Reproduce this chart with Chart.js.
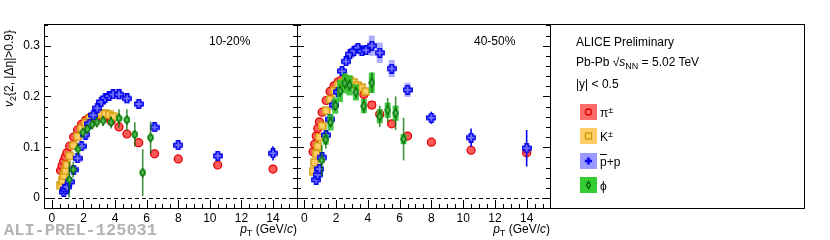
<!DOCTYPE html>
<html>
<head>
<meta charset="utf-8">
<script src="https://cdn.jsdelivr.net/npm/chart.js@4/dist/chart.umd.min.js"></script>
<style>
  body { margin: 0; background: #fff; }
  #wrap { position: relative; width: 830px; height: 240px; font-family: "Liberation Sans", Arial, sans-serif; font-size: 12px; color: #000; }
  #wrap canvas { position: absolute; top: 0; }
  .t { position: absolute; line-height: 14px; white-space: nowrap; }
  .t sub, .t sup { font-size: 9px; line-height: 0; }
  .t sub { vertical-align: -3px; }
  .t sup { vertical-align: 4px; }
  #legend { position: absolute; left: 550px; top: 24px; width: 255px; height: 185px; box-sizing: border-box; border: 1px solid #000; }
  .icon { position: absolute; left: 580px; }
</style>
</head>
<body>
<div id="wrap">
  <canvas id="left" width="298" height="240" style="left:0"></canvas>
  <canvas id="right" width="254" height="240" style="left:297px"></canvas>
  <div id="legend"></div>

  <div class="t" style="left:2px;top:107px;transform-origin:0 0;transform:rotate(-90deg)"><i>v</i><sub>2</sub>{2, |Δη|&gt;0.9}</div>
  <div class="t" style="left:209px;top:34px">10-20%</div>
  <div class="t" style="left:474px;top:34px">40-50%</div>
  <div class="t" style="left:197px;top:222px;width:100px;text-align:right"><i>p</i><sub>T</sub> (GeV/<i>c</i>)</div>
  <div class="t" style="left:450px;top:222px;width:100px;text-align:right"><i>p</i><sub>T</sub> (GeV/<i>c</i>)</div>
  <div class="t" style="left:4px;top:221px;line-height:20px;font-family:'Liberation Mono',monospace;font-weight:bold;font-size:17px;color:#b4b4b4">ALI-PREL-125031</div>

  <div class="t" style="left:576px;top:35px">ALICE Preliminary</div>
  <div class="t" style="left:576px;top:55px">Pb-Pb √<i>s</i><sub>NN</sub> = 5.02 TeV</div>
  <div class="t" style="left:576px;top:77px">|y| &lt; 0.5</div>
  <canvas class="icon" id="icPi" width="17" height="16" style="top:104px"></canvas>
  <canvas class="icon" id="icK" width="17" height="16" style="top:128px"></canvas>
  <canvas class="icon" id="icP" width="17" height="16" style="top:153px"></canvas>
  <canvas class="icon" id="icPhi" width="17" height="16" style="top:177px"></canvas>
  <div class="t" style="left:600px;top:106px">π<sup>±</sup></div>
  <div class="t" style="left:600px;top:130px">K<sup>±</sup></div>
  <div class="t" style="left:600px;top:155px"><span style="text-decoration:overline">p</span>+p</div>
  <div class="t" style="left:600px;top:179px">ϕ</div>
</div>

<script>
// pT bin centres (GeV/c)
const ptPi = [0.55, 0.65, 0.75, 0.85, 0.95, 1.125, 1.375, 1.625, 1.875, 2.125, 2.375, 2.625, 2.875, 3.25, 3.75, 4.25, 4.75, 5.5, 6.5, 8, 10.5, 14];
const ptK = [0.55, 0.65, 0.75, 0.85, 0.95, 1.125, 1.375, 1.625, 1.875, 2.125, 2.375, 2.625, 2.875, 3.125, 3.375, 3.625, 3.875];
const ptP = [0.75, 0.85, 0.95, 1.125, 1.375, 1.625, 1.875, 2.125, 2.375, 2.625, 2.875, 3.125, 3.375, 3.625, 3.875, 4.25, 4.75, 5.5, 6.5, 8, 10.5, 14];
const ptPhi = [1.1, 1.35, 1.65, 1.95, 2.25, 2.55, 2.85, 3.25, 3.75, 4.25, 4.75, 5.25, 5.75, 6.25];

// 10-20%
const v2PiL = [0.054, 0.064, 0.073, 0.081, 0.089, 0.102, 0.120, 0.134, 0.145, 0.153, 0.158, 0.160, 0.160, 0.157, 0.151, 0.140, 0.126, 0.109, 0.087, 0.077, 0.065, 0.057];
const statPiL = [0.001, 0.001, 0.001, 0.001, 0.001, 0.001, 0.001, 0.001, 0.001, 0.001, 0.001, 0.001, 0.001, 0.001, 0.001, 0.001, 0.002, 0.002, 0.002, 0.002, 0.003, 0.004];
const sysPiL = [0.003, 0.003, 0.003, 0.003, 0.003, 0.003, 0.003, 0.003, 0.003, 0.003, 0.003, 0.003, 0.003, 0.003, 0.004, 0.004, 0.004, 0.004, 0.004, 0.003, 0.003, 0.003];
const v2KL = [0.025, 0.034, 0.044, 0.054, 0.065, 0.083, 0.103, 0.121, 0.137, 0.148, 0.156, 0.161, 0.164, 0.166, 0.166, 0.164, 0.160];
const statKL = [0.001, 0.001, 0.001, 0.001, 0.001, 0.001, 0.001, 0.001, 0.001, 0.001, 0.001, 0.001, 0.001, 0.001, 0.001, 0.002, 0.002];
const sysKL = [0.003, 0.003, 0.003, 0.003, 0.003, 0.003, 0.003, 0.003, 0.003, 0.003, 0.003, 0.003, 0.003, 0.003, 0.003, 0.004, 0.004];
const v2PL = [0.012, 0.017, 0.022, 0.032, 0.056, 0.078, 0.102, 0.125, 0.146, 0.163, 0.177, 0.189, 0.197, 0.201, 0.204, 0.204, 0.196, 0.185, 0.139, 0.104, 0.083, 0.088];
const statPL = [0.002, 0.002, 0.002, 0.002, 0.002, 0.002, 0.002, 0.002, 0.002, 0.002, 0.002, 0.002, 0.002, 0.002, 0.002, 0.003, 0.003, 0.004, 0.004, 0.004, 0.005, 0.014];
const sysPL = [0.002, 0.002, 0.002, 0.002, 0.002, 0.002, 0.003, 0.003, 0.003, 0.003, 0.003, 0.003, 0.004, 0.004, 0.005, 0.011, 0.011, 0.009, 0.008, 0.004, 0.004, 0.004];
const v2PhiL = [0.036, 0.056, 0.096, 0.129, 0.136, 0.145, 0.149, 0.152, 0.149, 0.157, 0.154, 0.125, 0.050, 0.119];
const statPhiL = [0.035, 0.015, 0.012, 0.010, 0.010, 0.010, 0.010, 0.010, 0.012, 0.018, 0.021, 0.024, 0.046, 0.031];
const sysPhiL = [0.004, 0.004, 0.004, 0.004, 0.004, 0.004, 0.004, 0.004, 0.005, 0.006, 0.006, 0.006, 0.006, 0.006];

// 40-50%
const v2PiR = [0.091, 0.106, 0.122, 0.137, 0.150, 0.169, 0.192, 0.210, 0.221, 0.229, 0.233, 0.234, 0.231, 0.222, 0.204, 0.183, 0.165, 0.146, 0.122, 0.110, 0.094, 0.089];
const statPiR = [0.001, 0.001, 0.001, 0.001, 0.001, 0.001, 0.001, 0.001, 0.001, 0.001, 0.001, 0.001, 0.001, 0.001, 0.002, 0.002, 0.002, 0.002, 0.002, 0.002, 0.003, 0.004];
const sysPiR = [0.004, 0.004, 0.004, 0.004, 0.004, 0.004, 0.004, 0.004, 0.004, 0.004, 0.004, 0.004, 0.004, 0.005, 0.006, 0.008, 0.006, 0.006, 0.005, 0.004, 0.004, 0.004];
const v2KR = [0.053, 0.070, 0.087, 0.102, 0.120, 0.142, 0.172, 0.194, 0.211, 0.222, 0.228, 0.232, 0.232, 0.228, 0.222, 0.217, 0.210];
const statKR = [0.001, 0.001, 0.001, 0.001, 0.001, 0.001, 0.001, 0.001, 0.001, 0.001, 0.001, 0.001, 0.001, 0.002, 0.002, 0.002, 0.002];
const sysKR = [0.004, 0.004, 0.004, 0.004, 0.004, 0.004, 0.004, 0.004, 0.004, 0.004, 0.004, 0.004, 0.004, 0.005, 0.005, 0.005, 0.005];
const v2PR = [0.036, 0.046, 0.057, 0.080, 0.124, 0.155, 0.183, 0.209, 0.250, 0.269, 0.283, 0.290, 0.296, 0.289, 0.291, 0.300, 0.286, 0.255, 0.213, 0.158, 0.119, 0.098];
const statPR = [0.003, 0.003, 0.003, 0.003, 0.003, 0.003, 0.003, 0.003, 0.003, 0.003, 0.003, 0.003, 0.003, 0.003, 0.003, 0.004, 0.004, 0.005, 0.006, 0.012, 0.018, 0.036];
const sysPR = [0.003, 0.003, 0.003, 0.003, 0.003, 0.003, 0.004, 0.004, 0.005, 0.005, 0.006, 0.006, 0.007, 0.009, 0.009, 0.020, 0.020, 0.017, 0.014, 0.006, 0.006, 0.005];
const v2PhiR = [0.074, 0.115, 0.149, 0.182, 0.211, 0.226, 0.222, 0.208, 0.181, 0.227, 0.161, 0.173, 0.167, 0.116];
const statPhiR = [0.030, 0.018, 0.010, 0.010, 0.012, 0.012, 0.012, 0.012, 0.014, 0.020, 0.021, 0.024, 0.033, 0.042];
const sysPhiR = [0.005, 0.010, 0.016, 0.016, 0.022, 0.020, 0.020, 0.016, 0.014, 0.020, 0.014, 0.015, 0.015, 0.010];

const xMajor = [0, 2, 4, 6, 8, 10, 12, 14];
const yMajor = [0, 0.1, 0.2, 0.3];

// marker images (ROOT-like open markers)
function squareMarker(fill, stroke) {
  const c = document.createElement("canvas");
  c.width = c.height = 9;
  const g = c.getContext("2d");
  g.fillStyle = fill; g.fillRect(1, 1, 7, 7);
  g.strokeStyle = stroke; g.lineWidth = 1.3; g.strokeRect(1, 1, 7, 7);
  return c;
}
function plusPath(g, m, a, e) {
  g.beginPath();
  g.moveTo(m - a, m - e); g.lineTo(m + a, m - e); g.lineTo(m + a, m - a); g.lineTo(m + e, m - a);
  g.lineTo(m + e, m + a); g.lineTo(m + a, m + a); g.lineTo(m + a, m + e); g.lineTo(m - a, m + e);
  g.lineTo(m - a, m + a); g.lineTo(m - e, m + a); g.lineTo(m - e, m - a); g.lineTo(m - a, m - a);
  g.closePath();
}
function plusMarker(fill, stroke) {
  const c = document.createElement("canvas");
  c.width = c.height = 10;
  const g = c.getContext("2d");
  plusPath(g, 5, 1.7, 4.2);
  g.fillStyle = fill; g.fill();
  g.strokeStyle = stroke; g.lineWidth = 1.4; g.stroke();
  return c;
}
function diamondPath(g, cx, cy, hw, hh) {
  g.beginPath();
  g.moveTo(cx, cy - hh); g.lineTo(cx + hw, cy); g.lineTo(cx, cy + hh); g.lineTo(cx - hw, cy);
  g.closePath();
}
function diamondMarker(fill, stroke) {
  const c = document.createElement("canvas");
  c.width = 7; c.height = 10;
  const g = c.getContext("2d");
  diamondPath(g, 3.5, 5, 2.6, 4.2);
  g.fillStyle = fill; g.fill();
  g.strokeStyle = stroke; g.lineWidth = 1.2; g.stroke();
  return c;
}

const styles = {
  pi: { marker: "circle", bg: "#ff5a5a", border: "#e00000", box: "rgba(255,100,100,0.7)", bar: "#e00000", half: 4 },
  k: { marker: squareMarker("#ffcc66", "#cc9900"), box: "rgba(255,200,90,0.8)", bar: "#cc9900", half: 4 },
  p: { marker: plusMarker("#6f6fff", "#0000ee"), box: "rgba(120,120,255,0.6)", bar: "#0000ee", half: 3 },
  phi: { marker: diamondMarker("#55bb55", "#006600"), box: "rgba(40,190,40,0.85)", bar: "rgba(0,110,0,0.75)", half: 3 }
};

function series(st, pt, v2, stat, sys) {
  return {
    data: pt.map((x, i) => ({ x: x, y: v2[i] })),
    stat: stat, sys: sys,
    boxColor: st.box, barColor: st.bar, boxHalf: st.half,
    pointStyle: st.marker, pointRadius: 4,
    pointBackgroundColor: st.bg || "#000", pointBorderColor: st.border || "#000", pointBorderWidth: 1.2
  };
}

// boxes (systematic) and bars (statistical) under each dataset
const errPlugin = {
  id: "errs",
  beforeDatasetDraw(chart, args) {
    const ds = chart.data.datasets[args.index];
    const { ctx, chartArea: a, scales: { x, y } } = chart;
    ctx.save();
    ctx.beginPath(); ctx.rect(a.left, a.top, a.right - a.left, a.bottom - a.top); ctx.clip();
    ds.data.forEach((p, i) => {
      const px = x.getPixelForValue(p.x);
      const y1 = y.getPixelForValue(p.y + ds.sys[i]);
      const y2 = y.getPixelForValue(p.y - ds.sys[i]);
      ctx.fillStyle = ds.boxColor;
      ctx.fillRect(px - ds.boxHalf, y1, ds.boxHalf * 2, y2 - y1);
    });
    ctx.strokeStyle = ds.barColor;
    ctx.lineWidth = 1.6;
    ds.data.forEach((p, i) => {
      const px = x.getPixelForValue(p.x);
      ctx.beginPath();
      ctx.moveTo(px, y.getPixelForValue(p.y + ds.stat[i]));
      ctx.lineTo(px, y.getPixelForValue(p.y - ds.stat[i]));
      ctx.stroke();
    });
    ctx.restore();
  }
};

// zero line, frame and inward ticks
const framePlugin = {
  id: "frame",
  beforeDatasetsDraw(chart) {
    const { ctx, chartArea: a, scales: { y } } = chart;
    const y0 = Math.round(y.getPixelForValue(0)) + 0.5;
    ctx.save();
    ctx.setLineDash([4, 3]);
    ctx.strokeStyle = "#000"; ctx.lineWidth = 1;
    ctx.beginPath(); ctx.moveTo(a.left, y0); ctx.lineTo(a.right, y0); ctx.stroke();
    ctx.restore();
  },
  afterDraw(chart) {
    const { ctx, chartArea: a, scales: { x, y } } = chart;
    ctx.save();
    ctx.strokeStyle = "#000"; ctx.lineWidth = 1;
    ctx.strokeRect(a.left + 0.5, a.top + 0.5, a.right - a.left, a.bottom - a.top);
    ctx.beginPath();
    for (let i = -1; i <= 31; i++) {
      const v = i / 2;
      if (v < x.min || v > x.max) continue;
      const len = xMajor.includes(v) ? 8 : 4;
      const px = Math.round(x.getPixelForValue(v)) + 0.5;
      ctx.moveTo(px, a.bottom); ctx.lineTo(px, a.bottom - len);
    }
    for (let i = -1; i <= 17; i++) {
      const v = Math.round(i * 2) / 100;
      if (v < y.min || v > y.max) continue;
      const len = i % 5 === 0 ? 7 : 4;
      const py = Math.round(y.getPixelForValue(v)) + 0.5;
      ctx.moveTo(a.left, py); ctx.lineTo(a.left + len, py);
      ctx.moveTo(a.right, py); ctx.lineTo(a.right - len, py);
    }
    ctx.stroke();
    ctx.restore();
  }
};

Chart.defaults.font.family = "'Liberation Sans', Arial, sans-serif";
Chart.defaults.font.size = 12;
Chart.defaults.color = "#000";

function makePanel(id, sets, xmin, xmax, showY) {
  return new Chart(document.getElementById(id), {
    type: "scatter",
    data: { datasets: sets },
    plugins: [errPlugin, framePlugin],
    options: {
      responsive: false,
      animation: false,
      devicePixelRatio: 1,
      events: [],
      layout: { autoPadding: false, padding: { top: 24, right: 1, left: 0, bottom: 0 } },
      plugins: { legend: { display: false }, tooltip: { enabled: false } },
      scales: {
        x: {
          type: "linear", min: xmin, max: xmax,
          grid: { display: false, drawTicks: false }, border: { display: false },
          ticks: { padding: 3, maxRotation: 0, autoSkip: false },
          afterBuildTicks: (s) => { s.ticks = xMajor.map((v) => ({ value: v })); },
          afterFit: (s) => { s.height = 32; s.paddingLeft = 0; s.paddingRight = 0; }
        },
        y: {
          type: "linear", min: -0.0197, max: 0.3427,
          grid: { display: false, drawTicks: false }, border: { display: false },
          ticks: { display: showY, padding: 4, callback: (v) => String(v) },
          afterBuildTicks: (s) => { s.ticks = yMajor.map((v) => ({ value: v })); },
          afterFit: (s) => { s.width = showY ? 44 : 0; s.paddingTop = 0; s.paddingBottom = 0; }
        }
      }
    }
  });
}

// first dataset ends up on top
makePanel("left", [
  series(styles.phi, ptPhi, v2PhiL, statPhiL, sysPhiL),
  series(styles.p, ptP, v2PL, statPL, sysPL),
  series(styles.k, ptK, v2KL, statKL, sysKL),
  series(styles.pi, ptPi, v2PiL, statPiL, sysPiL)
], -0.5, 15.52, true);

makePanel("right", [
  series(styles.phi, ptPhi, v2PhiR, statPhiR, sysPhiR),
  series(styles.p, ptP, v2PR, statPR, sysPR),
  series(styles.k, ptK, v2KR, statKR, sysKR),
  series(styles.pi, ptPi, v2PiR, statPiR, sysPiR)
], -0.46, 15.47, false);

// legend icons
function icon(id, fill, draw) {
  const g = document.getElementById(id).getContext("2d");
  g.fillStyle = fill; g.fillRect(0, 0, 17, 16);
  draw(g);
}
icon("icPi", "#ff6b6b", (g) => {
  g.beginPath(); g.arc(8.5, 8, 3, 0, Math.PI * 2);
  g.strokeStyle = "#dd0000"; g.lineWidth = 1.3; g.stroke();
});
icon("icK", "#ffcc66", (g) => {
  g.strokeStyle = "#cc9900"; g.lineWidth = 1.3; g.strokeRect(5.5, 5, 6, 6);
});
icon("icP", "#9999ff", (g) => {
  g.save(); g.translate(3.5, 3); plusPath(g, 5, 1.3, 3.6);
  g.fillStyle = "#0000ee"; g.fill(); g.restore();
});
icon("icPhi", "#33cc33", (g) => {
  diamondPath(g, 8.5, 8, 2, 3.5);
  g.strokeStyle = "#005500"; g.lineWidth = 1.2; g.stroke();
});
</script>
</body>
</html>
